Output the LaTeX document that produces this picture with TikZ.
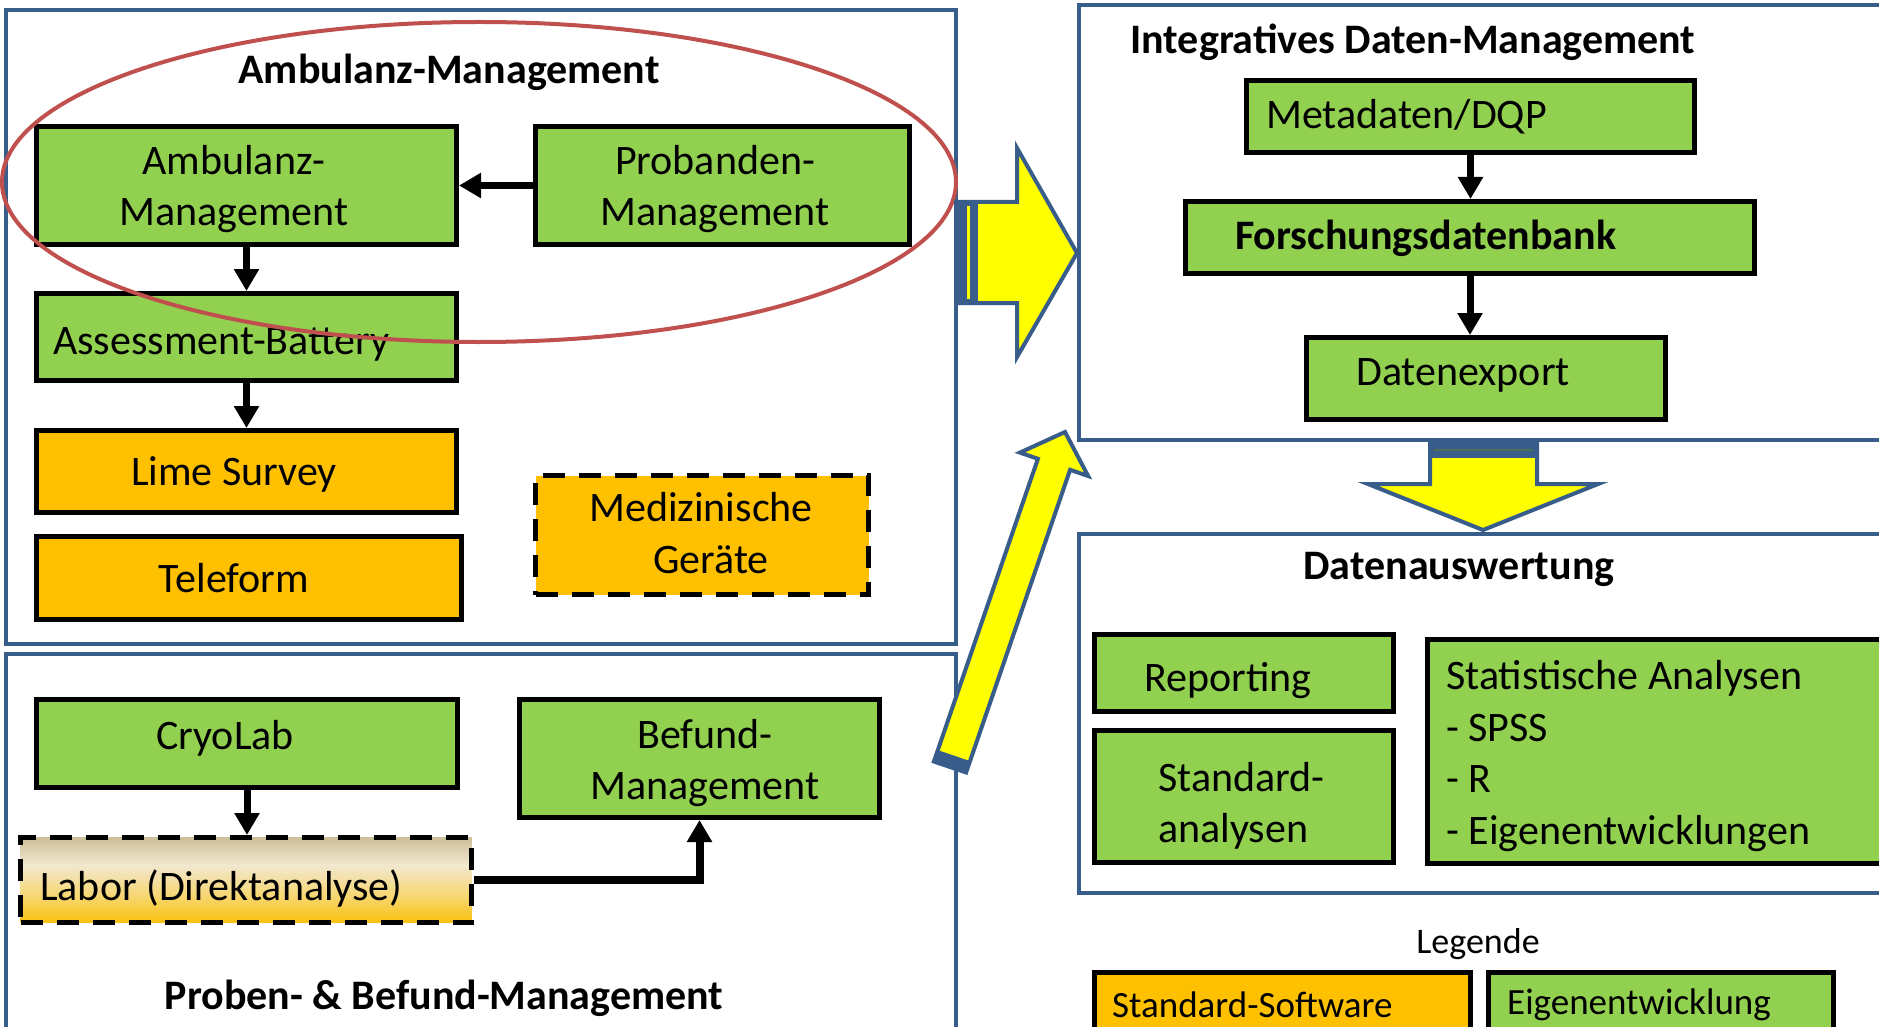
\documentclass[tikz,border=0pt]{standalone}
\usepackage{fontspec}
\setmainfont{Carlito}
\usetikzlibrary{arrows.meta,calc}
\definecolor{bgreen}{RGB}{146,208,80}
\definecolor{borange}{RGB}{255,192,0}
\definecolor{bblue}{RGB}{56,93,138}
\definecolor{ered}{RGB}{192,80,77}
\definecolor{byellow}{RGB}{255,255,0}
\definecolor{lbOrange}{RGB}{250,192,10}
\definecolor{lbMid}{RGB}{247,214,110}
\definecolor{lbCream}{RGB}{242,232,208}
\definecolor{lbTan}{RGB}{204,190,152}
\pgfdeclareverticalshading{laborshade}{100bp}{color(0bp)=(lbOrange); color(25bp)=(lbOrange); color(40bp)=(lbMid); color(59bp)=(lbCream); color(75bp)=(lbTan); color(100bp)=(lbTan)}
\tikzset{
  outerbox/.style={draw=bblue, line width=4pt},
  gbox/.style={rectangle, draw=black, line width=5pt, fill=bgreen, inner sep=0pt},
  obox/.style={rectangle, draw=black, line width=5pt, fill=borange, inner sep=0pt},
  dbox/.style={rectangle, draw=black, line width=5pt, dash pattern=on 22pt off 14pt, inner sep=0pt},
  txt/.style={font=\fontsize{42}{51.5}\selectfont, inner sep=0pt},
  ttl/.style={font=\fontsize{42}{51.5}\selectfont\bfseries, inner sep=0pt},
  legtxt/.style={font=\fontsize{37}{45}\selectfont, inner sep=0pt},
  conn/.style={line width=7pt, -{Triangle[length=22pt,width=24pt]}},
  blockarrow/.style={draw=bblue, line width=4pt, fill=byellow, line join=miter},
}
\begin{document}
\begin{tikzpicture}[x=1pt,y=-1pt]
\useasboundingbox (0,0) rectangle (1879,1027);
\clip (0,0) rectangle (1879,1027);
\fill[white] (0,0) rectangle (1879,1027);

% outer section boxes
\draw[outerbox] (6,10) rectangle (956,644);
\draw[outerbox] (6,654) rectangle (956,1040);
\draw[outerbox] (1079,5) rectangle (1900,440);
\draw[outerbox] (1079,534) rectangle (1900,893);

% Ambulanz-Management section
\node[ttl] (tAmb) at (449,72) {Ambulanz-Management};
\node[gbox, minimum width=420pt, minimum height=118pt] (ambMgmt) at (246.5,185.5) {};
\node[txt, align=center] (ambMgmtT) at (234,189) {Ambulanz-\\Management};
\node[gbox, minimum width=374pt, minimum height=118pt] (probMgmt) at (722.5,185.5) {};
\node[txt, align=center] (probMgmtT) at (715,189) {Probanden-\\Management};
\node[gbox, minimum width=420pt, minimum height=87pt] (assess) at (246.5,337) {};
\node[txt, anchor=west] (assessT) at (53,344) {Assessment-Battery};
\node[obox, minimum width=420pt, minimum height=82pt] (lime) at (246.5,471.5) {};
\node[txt] (limeT) at (234,474) {Lime Survey};
\node[obox, minimum width=425pt, minimum height=83pt] (tele) at (249,578) {};
\node[txt] (teleT) at (234,578) {Teleform};
\node[dbox, fill=borange, minimum width=333pt, minimum height=119pt] (medGer) at (702,535) {};
\node[txt, align=center] (medGerT) at (701,533) {Medizinische\\\hspace*{20pt}Geräte};

\draw[conn] (probMgmt.west) -- (ambMgmt.east);
\draw[conn] (ambMgmt.south) -- (assess.north);
\draw[conn] (assess.south) -- (lime.north);

\draw[ered, line width=4pt] (479,182) ellipse [x radius=477pt, y radius=160pt];

% Proben- & Befund-Management section
\node[gbox, minimum width=421pt, minimum height=88pt] (cryo) at (247,743.5) {};
\node[txt] (cryoT) at (225,738) {CryoLab};
\node[gbox, minimum width=360pt, minimum height=118pt] (befund) at (699.5,758.5) {};
\node[txt, align=center] (befundT) at (705,763) {Befund-\\Management};
\node[dbox, shading=laborshade, minimum width=451pt, minimum height=85pt] (labor) at (246,880) {};
\node[txt, anchor=west] (laborT) at (40,889) {Labor (Direktanalyse)};
\node[ttl] (tProben) at (444,998) {Proben- \& Befund-Management};

\draw[conn] (cryo.south) -- (cryo.south |- labor.north);
\draw[conn, line width=8pt] (labor.east) -| (befund.south);

% Integratives Daten-Management section
\node[ttl] (tInt) at (1413,42) {Integratives Daten-Management};
\node[gbox, minimum width=448pt, minimum height=72pt] (meta) at (1470.5,116.5) {};
\node[txt, anchor=west] (metaT) at (1266,117) {Metadaten/DQP};
\node[gbox, minimum width=569pt, minimum height=72pt] (forsch) at (1470,237.5) {};
\node[ttl, anchor=west] (forschT) at (1235,238) {Forschungsdatenbank};
\node[gbox, minimum width=359pt, minimum height=82pt] (export) at (1486,378.5) {};
\node[txt, anchor=west] (exportT) at (1356,375) {Datenexport};

\draw[conn] (meta.south) -- (meta.south |- forsch.north);
\draw[conn] (forsch.south) -- (forsch.south |- export.north);

% Datenauswertung section
\node[ttl] (tAus) at (1459,569) {Datenauswertung};
\node[gbox, minimum width=299pt, minimum height=77pt] (reporting) at (1244,673) {};
\node[txt, anchor=west] (reportingT) at (1144,681) {Reporting};
\node[gbox, minimum width=299pt, minimum height=132pt] (standard) at (1244,796.5) {};
\node[txt, anchor=west, align=left] (standardT) at (1158,806) {Standard-\\analysen};
\node[gbox, minimum width=470pt, minimum height=224pt] (stat) at (1662.5,751.5) {};
\node[txt, anchor=west, align=left] (statT) at (1446,756) {Statistische Analysen\\- SPSS\\- R\\- Eigenentwicklungen};

% Legend
\node[font=\fontsize{36}{44}\selectfont, inner sep=0pt] (legT) at (1478,944) {Legende};
\node[obox, minimum width=376pt, minimum height=67pt] (legStd) at (1282.5,1006) {};
\node[legtxt, anchor=west] (legStdT) at (1112,1005) {Standard-Software};
\node[gbox, minimum width=345pt, minimum height=67pt] (legEig) at (1661,1006) {};
\node[legtxt, anchor=west] (legEigT) at (1507,1005) {Eigenentwicklung};

% block arrows
\draw[blockarrow] (956,202) -- (1017,202) -- (1017,148) -- (1077,253) -- (1017,357) -- (1017,303) -- (956,303) -- cycle;
\fill[bblue] (956,202) rectangle (978,303);
\draw[byellow, line width=2.5pt] (968.5,206) -- (968.5,299);

\draw[blockarrow] (1430,440) -- (1537,440) -- (1537,484) -- (1598,484) -- (1483,530) -- (1368,484) -- (1430,484) -- cycle;
\fill[bblue] (1428,438) rectangle (1539,458);
\draw[black!40!bgreen!60!bblue, line width=1.5pt] (1434,450) -- (1533,450);

\draw[blockarrow] (933.9,761.5) -- (1037.9,458.8) -- (1019.9,452.6) -- (1065,432) -- (1088.1,476) -- (1070.1,469.8) -- (966.1,772.5) -- cycle;
\fill[bblue] (933.9,761.5) -- (966.1,772.5) -- (970,761.1) -- (937.8,750.1) -- cycle;
\end{tikzpicture}
\end{document}
